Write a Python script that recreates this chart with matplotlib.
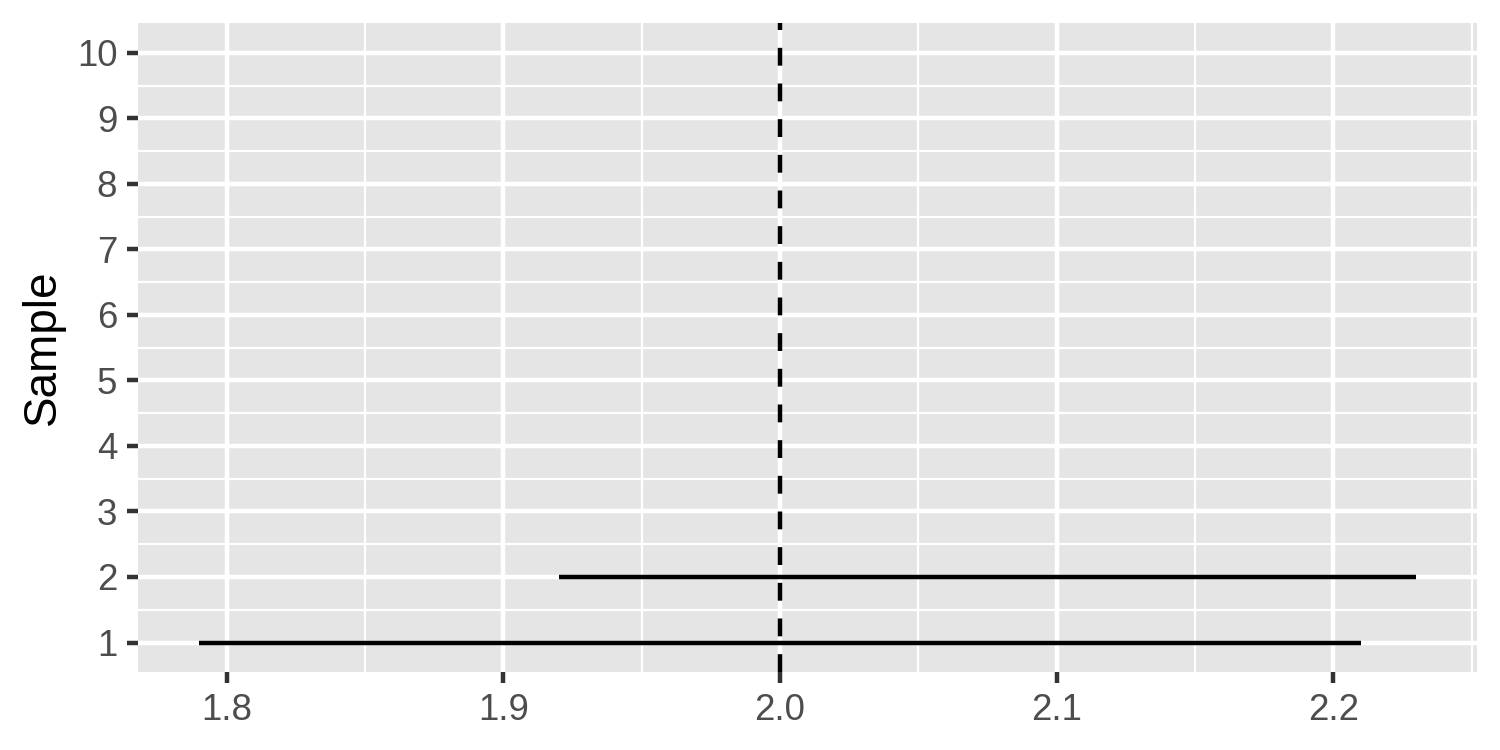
import matplotlib
matplotlib.use("Agg")
import matplotlib.pyplot as plt
from matplotlib.ticker import MultipleLocator

# intervalos por amostra
samples = [1, 2]
lower = [1.79, 1.92]
upper = [2.21, 2.23]
true_value = 2.0
y_ticks = list(range(1, 11))
x_ticks = [1.8, 1.9, 2.0, 2.1, 2.2]

plt.rcParams['font.family'] = ['Liberation Sans', 'DejaVu Sans']

fig = plt.figure(figsize=(5, 2.5), dpi=300)
ax = fig.add_axes([0.092, 0.104, 0.8927, 0.865])
ax.set_facecolor('#E5E5E5')

# grade estilo ggplot
ax.set_xticks(x_ticks)
ax.set_yticks(y_ticks)
ax.xaxis.set_minor_locator(MultipleLocator(0.05))
ax.yaxis.set_minor_locator(MultipleLocator(0.5))
ax.grid(which='major', color='white', linewidth=1.07)
ax.grid(which='minor', color='white', linewidth=0.53)
ax.set_axisbelow(True)
for s in ax.spines.values():
    s.set_visible(False)

ax.hlines(samples, lower, upper, color='black', linewidth=1.07, zorder=3)
vl = ax.axvline(true_value, color='black', linewidth=1.07, zorder=4)
vl.set_dashes((4, 4))

x_min = min(lower)
x_max = max(upper)
pad = (x_max - x_min) * 0.05
ax.set_xlim(x_min - pad, x_max + pad)
pad_y = (max(y_ticks) - min(y_ticks)) * 0.05
ax.set_ylim(min(y_ticks) - pad_y, max(y_ticks) + pad_y)

ax.set_xticklabels(['%.1f' % v for v in x_ticks])
ax.tick_params(which='major', length=2.75, width=1.07, color='#333333',
               labelcolor='#4D4D4D', labelsize=8.8, pad=2.2)
ax.tick_params(which='minor', length=0)
ax.set_ylabel('Sample', fontsize=11, color='black', labelpad=2.75)

fig.savefig('out.png', dpi=300)
